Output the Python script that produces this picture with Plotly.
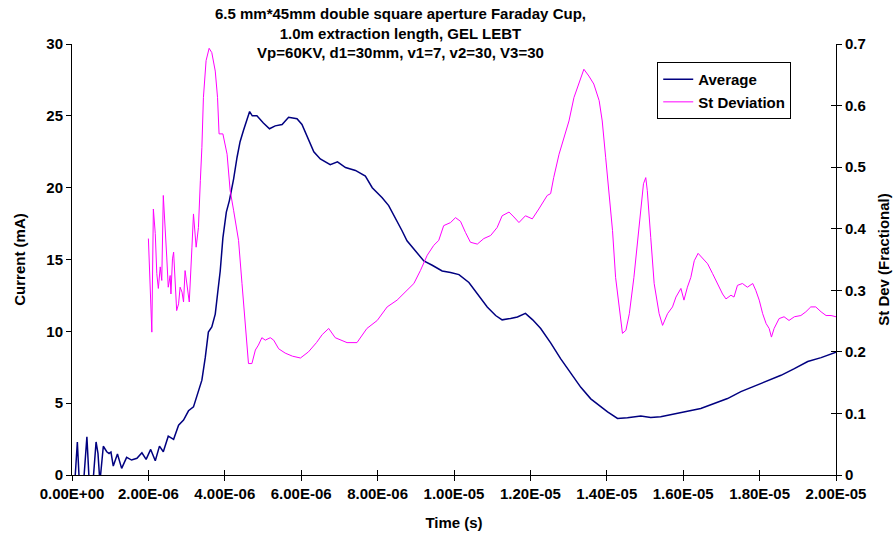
import plotly.graph_objects as go

# ---- data (time in microseconds, converted to seconds for plotting) ----
avg_time_us = [0.00, 0.05, 0.14, 0.21, 0.29, 0.39, 0.47, 0.55, 0.63, 0.68, 0.73, 0.82, 0.91, 0.97, 1.02,
               1.08, 1.19, 1.30, 1.43, 1.56, 1.70, 1.83, 1.94, 2.06, 2.18, 2.29, 2.39, 2.52, 2.66, 2.79,
               2.92, 3.05, 3.18, 3.27, 3.36, 3.40, 3.49, 3.57, 3.66, 3.75, 3.81, 3.88, 3.95, 4.04, 4.12,
               4.23, 4.32, 4.40, 4.49, 4.59, 4.65, 4.72, 4.84, 5.01, 5.17, 5.32, 5.50, 5.67, 5.89, 6.02,
               6.19, 6.33, 6.50, 6.76, 6.95, 7.16, 7.42, 7.68, 7.86, 8.12, 8.29, 8.47, 8.64, 8.77, 8.95,
               9.21, 9.43, 9.69, 9.91, 10.13, 10.39, 10.61, 10.87, 11.09, 11.26, 11.48, 11.66, 11.87, 12.06,
               12.27, 12.53, 12.79, 13.05, 13.32, 13.58, 13.84, 14.02, 14.28, 14.54, 14.89, 15.15, 15.41,
               15.76, 16.11, 16.46, 16.81, 17.16, 17.51, 17.86, 18.21, 18.56, 18.91, 19.26, 19.61, 19.96, 20.00]
avg_current = [0.0, -1.5, 2.3, -1.5, -1.0, 2.66, -1.5, -0.5, 2.3, 1.5, -0.5, 2.0, 1.62, 1.5, 1.6,
               0.62, 1.46, 0.46, 1.23, 1.04, 1.16, 1.55, 1.09, 1.78, 0.99, 2.01, 1.62, 2.7, 2.48, 3.47,
               3.82, 4.47, 4.74, 5.56, 6.37, 6.6, 8.2, 9.95, 10.3, 11.2, 12.6, 14.2, 16.5, 18.3, 19.1,
               20.6, 22.1, 23.2, 24.0, 24.8, 25.3, 25.0, 25.0, 24.5, 24.1, 24.3, 24.4, 24.9, 24.8, 24.4,
               23.3, 22.5, 22.0, 21.6, 21.8, 21.4, 21.2, 20.8, 20.0, 19.3, 18.75, 17.9, 17.0, 16.3, 15.7,
               14.9, 14.6, 14.2, 14.1, 13.95, 13.4, 12.6, 11.7, 11.1, 10.8, 10.9, 11.0, 11.25, 10.8,
               10.2, 9.2, 8.1, 7.1, 6.1, 5.3, 4.74, 4.4, 3.94, 3.98, 4.1, 4.0, 4.05,
               4.24, 4.4, 4.63, 4.98, 5.32, 5.8, 6.18, 6.6, 6.94, 7.4, 7.9, 8.17, 8.5, 8.55]

sd_time_us = [2.00, 2.04, 2.09, 2.13, 2.18, 2.22, 2.26, 2.31, 2.35, 2.39, 2.44, 2.48, 2.52, 2.57, 2.59,
              2.63, 2.66, 2.70, 2.74, 2.79, 2.83, 2.88, 2.92, 2.96, 3.01, 3.07, 3.14, 3.18, 3.25, 3.31,
              3.36, 3.40, 3.44, 3.51, 3.59, 3.66, 3.75, 3.81, 3.85, 3.95, 4.06, 4.14, 4.23, 4.36, 4.45,
              4.53, 4.62, 4.71, 4.80, 4.88, 4.97, 5.06, 5.19, 5.28, 5.41, 5.58, 5.77, 5.98, 6.19, 6.40,
              6.55, 6.72, 6.89, 7.20, 7.46, 7.72, 7.99, 8.25, 8.51, 8.77, 8.95, 9.12, 9.30, 9.47, 9.60,
              9.73, 9.91, 10.04, 10.17, 10.30, 10.43, 10.61, 10.78, 10.96, 11.13, 11.26, 11.44, 11.57, 11.70,
              11.87, 12.05, 12.22, 12.44, 12.53, 12.61, 12.75, 12.88, 13.01, 13.14, 13.27, 13.40, 13.53,
              13.66, 13.80, 13.88, 13.97, 14.06, 14.15, 14.23, 14.32, 14.41, 14.50, 14.59, 14.71, 14.80,
              14.89, 14.96, 15.02, 15.06, 15.15, 15.24, 15.37, 15.46, 15.59, 15.72, 15.81, 15.94, 16.02,
              16.11, 16.20, 16.29, 16.39, 16.51, 16.64, 16.77, 16.90, 17.03, 17.12, 17.25, 17.33, 17.42,
              17.55, 17.68, 17.82, 17.90, 17.99, 18.08, 18.17, 18.25, 18.31, 18.38, 18.51, 18.64, 18.77,
              18.91, 19.08, 19.21, 19.34, 19.47, 19.61, 19.74, 19.87, 20.00]
sd_fraction = [0.384, 0.305, 0.232, 0.432, 0.392, 0.327, 0.303, 0.338, 0.316, 0.454, 0.408, 0.354, 0.305, 0.324, 0.294,
               0.351, 0.362, 0.316, 0.267, 0.278, 0.305, 0.297, 0.281, 0.332, 0.305, 0.281, 0.37, 0.424, 0.37, 0.402,
               0.478, 0.532, 0.613, 0.673, 0.693, 0.686, 0.656, 0.613, 0.554, 0.554, 0.521, 0.462, 0.43, 0.381, 0.311,
               0.251, 0.181, 0.181, 0.203, 0.211, 0.223, 0.219, 0.223, 0.219, 0.205, 0.198, 0.193, 0.19, 0.2, 0.215,
               0.228, 0.238, 0.223, 0.215, 0.215, 0.238, 0.251, 0.273, 0.284, 0.30, 0.311, 0.332, 0.357, 0.373, 0.381,
               0.405, 0.41, 0.418, 0.412, 0.394, 0.378, 0.375, 0.384, 0.389, 0.402, 0.421, 0.427, 0.419, 0.41,
               0.421, 0.416, 0.432, 0.454, 0.457, 0.483, 0.521, 0.548, 0.575, 0.613, 0.635, 0.659, 0.648,
               0.635, 0.608, 0.575, 0.516, 0.462, 0.397, 0.321, 0.273, 0.23, 0.235, 0.262, 0.321, 0.375,
               0.44, 0.473, 0.483, 0.462, 0.386, 0.311, 0.262, 0.243, 0.262, 0.273, 0.289, 0.303, 0.284,
               0.305, 0.321, 0.348, 0.36, 0.351, 0.343, 0.327, 0.311, 0.294, 0.286, 0.292, 0.289, 0.308,
               0.311, 0.305, 0.311, 0.30, 0.284, 0.262, 0.246, 0.238, 0.224, 0.238, 0.254, 0.257, 0.251,
               0.257, 0.259, 0.265, 0.273, 0.273, 0.265, 0.259, 0.259, 0.257]

x_tick_values = [0, 2e-6, 4e-6, 6e-6, 8e-6, 1e-5, 1.2e-5, 1.4e-5, 1.6e-5, 1.8e-5, 2e-5]
x_tick_labels = ["0.00E+00", "2.00E-06", "4.00E-06", "6.00E-06", "8.00E-06", "1.00E-05",
                 "1.20E-05", "1.40E-05", "1.60E-05", "1.80E-05", "2.00E-05"]
y2_tick_values = [0, 0.1, 0.2, 0.3, 0.4, 0.5, 0.6, 0.7]
y2_tick_labels = ["0", "0.1", "0.2", "0.3", "0.4", "0.5", "0.6", "0.7"]

title_text = ("6.5 mm*45mm double square aperture Faraday Cup,<br>"
              "1.0m extraction length, GEL LEBT<br>"
              "Vp=60KV, d1=30mm, v1=7, v2=30, V3=30")

FONT = "Liberation Sans, Arial, sans-serif"
bold = dict(family=FONT, size=15, color="black", weight="bold")

fig = go.Figure()
fig.add_trace(go.Scatter(x=[t * 1e-6 for t in avg_time_us], y=avg_current, mode="lines",
                         name="Average", line=dict(color="#000080", width=1.5), yaxis="y"))
fig.add_trace(go.Scatter(x=[t * 1e-6 for t in sd_time_us], y=sd_fraction, mode="lines",
                         name="St Deviation", line=dict(color="#FF00FF", width=1), yaxis="y2"))

fig.update_layout(
    width=896, height=537,
    margin=dict(l=72, r=60, t=44, b=62),
    paper_bgcolor="white", plot_bgcolor="white",
    font=bold,
    showlegend=True,
    legend=dict(x=0.766, y=0.958, xanchor="left", yanchor="top",
                bordercolor="black", borderwidth=1, bgcolor="white",
                font=dict(family=FONT, size=15, color="black", weight="bold"),
                tracegroupgap=0, itemwidth=30),
    annotations=[dict(text=title_text, xref="paper", yref="paper", x=0.43, y=1.0,
                      xanchor="center", yanchor="top", yshift=41, showarrow=False, align="center",
                      font=dict(family=FONT, size=15, color="black", weight="bold"))],
    xaxis=dict(range=[0, 2e-5], tickvals=x_tick_values, ticktext=x_tick_labels,
               showline=True, linecolor="black", linewidth=1, ticks="outside", ticklen=5,
               tickcolor="black", showgrid=False, zeroline=False, automargin=False,
               tickfont=bold,
               title=dict(text="Time (s)", font=bold, standoff=16)),
    xaxis2=dict(range=[0, 2e-5], tickvals=x_tick_values, overlaying="x",
                showticklabels=False, ticks="inside", ticklen=5, tickcolor="black",
                showgrid=False, zeroline=False, showline=False, anchor="y", automargin=False),
    yaxis=dict(range=[0, 30], dtick=5, showline=True, linecolor="black", linewidth=1,
               ticks="outside", ticklen=5, tickcolor="black", showgrid=False, zeroline=False,
               tickfont=bold, automargin=False,
               title=dict(text="Current (mA)", font=bold, standoff=17)),
    yaxis2=dict(range=[0, 0.7], tickvals=y2_tick_values, ticktext=y2_tick_labels,
                overlaying="y", side="right", showline=True, linecolor="black", linewidth=1,
                ticks="outside", ticklen=5, tickcolor="black", showgrid=False, zeroline=False,
                tickfont=bold, automargin=False,
                title=dict(text="St Dev (Fractional)", font=bold, standoff=12)),
    yaxis3=dict(range=[0, 0.7], tickvals=y2_tick_values, overlaying="y", side="right",
                anchor="x", showticklabels=False, ticks="inside", ticklen=5, tickcolor="black",
                showgrid=False, zeroline=False, showline=False, automargin=False),
)
# helper trace so the inside tick halves (crossing ticks) are rendered
fig.add_trace(go.Scatter(x=[0, 2e-5], y=[None, None], xaxis="x2", yaxis="y3",
                         showlegend=False, hoverinfo="skip"))

fig.write_html("out.html")
